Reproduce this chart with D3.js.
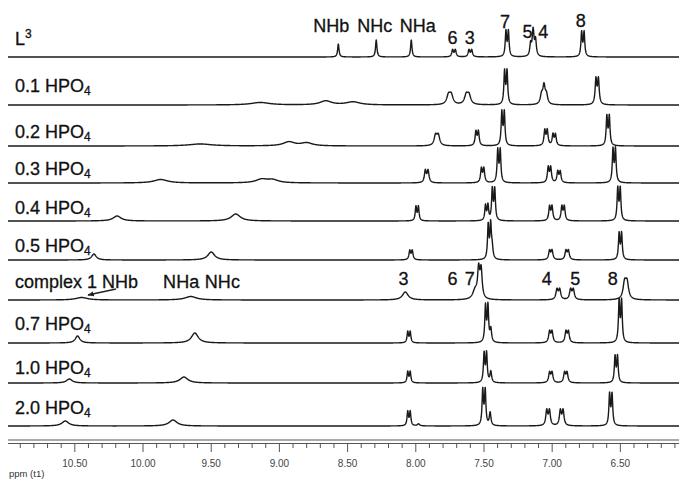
<!DOCTYPE html>
<html><head><meta charset="utf-8">
<script src="https://cdn.jsdelivr.net/npm/d3@7"></script>
<style>body{margin:0;background:#fff}svg{display:block}</style>
</head><body>
<script>
// ---------- data ----------
const axisDomain = [10.99, 6.07];              // ppm, left -> right
const tickValues = [10.5, 10.0, 9.5, 9.0, 8.5, 8.0, 7.5, 7.0, 6.5];
const tickLabels = ["10.50","10.00","9.50","9.00","8.50","8.00","7.50","7.00","6.50"];
const rowLabels = [
  ["L","3","sup"], ["0.1 HPO","4","sub"], ["0.2 HPO","4","sub"], ["0.3 HPO","4","sub"],
  ["0.4 HPO","4","sub"], ["0.5 HPO","4","sub"], ["complex 1 NHb","",""],
  ["0.7 HPO","4","sub"], ["1.0 HPO","4","sub"], ["2.0 HPO","4","sub"]
];
// signals: [ppm, height, halfwidth(ppm), number of lines, splitting(ppm)]
const s_L3 = [[8.568,13,0.006,1,0],[8.29,17,0.006,1,0],[8.033,17,0.006,1,0],[7.72,7,0.007,2,0.02],[7.60,7,0.007,2,0.02],
  [7.33,25,0.006,2,0.018],[7.15,12,0.007,2,0.016],[7.13,16,0.007,2,0.016],[6.775,24,0.006,2,0.018]];
const s_01 = [[9.14,2.5,0.08,1,0],[8.66,4,0.05,1,0],[8.46,3,0.06,1,0],[7.75,9,0.015,2,0.02],[7.62,9,0.015,2,0.02],
  [7.34,33,0.006,2,0.018],[7.06,18,0.01,3,0.018],[6.67,25,0.007,2,0.018]];
const s_02 = [[9.58,2,0.1,1,0],[8.93,4,0.05,1,0],[8.80,3,0.05,1,0],[7.845,10,0.012,2,0.02],[7.55,14,0.007,2,0.018],
  [7.36,33,0.006,2,0.018],[7.045,15,0.007,2,0.018],[6.985,11,0.007,2,0.018],[6.59,29,0.006,2,0.018]];
const s_03 = [[9.87,3.5,0.06,1,0],[9.13,3.5,0.05,1,0],[9.05,3,0.05,1,0],[7.92,12,0.008,2,0.02],[7.51,14,0.007,2,0.018],
  [7.39,32,0.006,2,0.018],[7.02,15,0.007,2,0.018],[6.95,11,0.007,2,0.018],[6.545,33,0.006,2,0.018]];
const s_04 = [[10.19,5,0.035,1,0],[9.32,7,0.04,1,0],[7.99,14,0.006,2,0.018],[7.48,15,0.006,2,0.018],
  [7.43,31,0.006,2,0.018],[7.01,14,0.007,2,0.018],[6.92,14,0.007,2,0.018],[6.51,32,0.006,2,0.018]];
const s_05 = [[10.36,6,0.02,1,0],[9.50,8,0.03,1,0],[8.035,9,0.007,2,0.018],[7.46,34,0.006,2,0.018],[7.44,11,0.007,1,0],
  [7.01,9,0.008,2,0.018],[6.89,9,0.008,2,0.018],[6.50,26,0.006,2,0.018]];
const s_c1 = [[10.45,2.5,0.05,1,0],[9.65,3.5,0.05,1,0],[8.077,8,0.025,1,0],[7.565,9,0.02,1,0],[7.53,28,0.009,2,0.018],
  [6.955,10,0.009,2,0.02],[6.855,10,0.009,2,0.02],[6.46,16,0.013,2,0.018]];
const s_07 = [[10.48,7,0.02,1,0],[9.62,10,0.03,1,0],[8.05,11,0.006,2,0.018],[7.48,36,0.006,2,0.018],[7.45,13,0.007,1,0],
  [7.01,11,0.008,2,0.018],[6.89,11,0.008,2,0.018],[6.50,41,0.006,2,0.018]];
const s_10 = [[10.54,4,0.025,1,0],[9.70,6,0.035,1,0],[8.05,11,0.006,2,0.018],[7.49,29,0.006,2,0.018],[7.45,11,0.007,1,0],
  [7.01,10,0.008,2,0.018],[6.90,10,0.008,2,0.018],[6.53,26,0.006,2,0.018]];
const s_20 = [[10.57,5,0.03,1,0],[9.78,6,0.035,1,0],[8.05,14,0.006,2,0.018],[7.98,2,0.01,1,0],[7.50,35,0.006,2,0.018],
  [7.455,13,0.007,1,0],[7.03,15,0.008,2,0.02],[6.93,15,0.008,2,0.02],[6.57,31,0.006,2,0.018]];
const spectra = [s_L3, s_01, s_02, s_03, s_04, s_05, s_c1, s_07, s_10, s_20];
// peak annotations: [text, ppm, vertical offset]
const topLabels = [["NHb",8.62,0],["NHc",8.30,0],["NHa",7.985,0],["6",7.73,12],["3",7.605,12],["7",7.345,-4],["5",7.18,6],["4",7.065,6],["8",6.79,-5]];
const complexLabels = [["3",8.09],["6",7.73],["7",7.605],["4",7.04],["5",6.83],["8",6.555]];

// ---------- layout ----------
const W = 679, H = 479;
const baselines = [57, 105, 146, 183, 221, 260, 300, 343, 383, 426];
const labelBase = [45, 92, 138, 175, 214, 252, 288, 330, 374, 414];
const font = "'Liberation Sans', Arial, sans-serif";

const svg = d3.select("body").append("svg").attr("width", W).attr("height", H);
const x = d3.scaleLinear().domain(axisDomain).range([8, W]);
const yAmp = d3.scaleLinear().domain([0, 1]).range([0, 1]);

function intensity(sig, p) {
  let v = 0;
  for (const [c, h, w, n, j] of sig) {
    const weights = n === 3 ? [0.5, 1, 0.5] : n === 2 ? [1, 1] : [1];
    const off0 = -(n - 1) * j / 2;
    weights.forEach((wt, k) => {
      const c0 = c + off0 + k * j;
      const d = p - c0;
      v += h * wt * w * w / (d * d + w * w);
    });
  }
  return v;
}

const step = 0.0015;
const pts = d3.range(axisDomain[1], axisDomain[0] + step, step);
spectra.forEach((sig, i) => {
  const line = d3.line().x(p => x(p)).y(p => baselines[i] - yAmp(intensity(sig, p)));
  svg.append("path").attr("d", line(pts)).attr("fill", "none")
    .attr("stroke", "#1a1a1a").attr("stroke-width", 1.4).attr("stroke-linejoin", "round");
});

function styleText(t) {
  return t.attr("font-family", font).attr("font-size", 18).attr("fill", "#111")
    .attr("stroke", "#111").attr("stroke-width", 0.3);
}
// row labels
rowLabels.forEach((lab, i) => {
  const t = styleText(svg.append("text").attr("x", 15).attr("y", labelBase[i]));
  t.append("tspan").text(lab[0]);
  if (lab[2] === "sub") t.append("tspan").attr("font-size", 12).attr("dy", 3).text(lab[1]);
  if (lab[2] === "sup") t.append("tspan").attr("font-size", 12).attr("dy", -7).text(lab[1]);
});

// top annotations
topLabels.forEach(([t, p, dy]) => {
  styleText(svg.append("text").attr("x", x(p)).attr("y", 32 + dy).attr("text-anchor", "middle")).text(t);
});
// complex annotations
styleText(svg.append("text").attr("x", 163).attr("y", 288)).attr("textLength", 77).text("NHa NHc");
complexLabels.forEach(([t, p]) => {
  styleText(svg.append("text").attr("x", x(p)).attr("y", 285).attr("text-anchor", "middle")).text(t);
});
// arrow
svg.append("defs").append("marker").attr("id", "ah").attr("viewBox", "0 0 10 10")
  .attr("refX", 9).attr("refY", 5).attr("markerWidth", 5).attr("markerHeight", 5).attr("orient", "auto")
  .append("path").attr("d", "M0,1 L10,5 L0,9 z").attr("fill", "#222");
svg.append("line").attr("x1", 116).attr("y1", 289).attr("x2", 88).attr("y2", 295)
  .attr("stroke", "#222").attr("stroke-width", 1.3).attr("marker-end", "url(#ah)");

// axis
const ax = svg.append("g");
ax.append("line").attr("x1", 8).attr("x2", W).attr("y1", 440).attr("y2", 440).attr("stroke", "#555").attr("stroke-width", 1);
ax.append("line").attr("x1", 8).attr("x2", W).attr("y1", 443.5).attr("y2", 443.5).attr("stroke", "#555").attr("stroke-width", 1);
const minor = d3.range(6.1, 11.0, 0.1).map(v => Math.round(v * 10) / 10);
minor.forEach(v => {
  const isMajor = Math.abs(v * 2 - Math.round(v * 2)) < 1e-6;
  ax.append("line").attr("x1", x(v)).attr("x2", x(v)).attr("y1", 443.5).attr("y2", isMajor ? 452 : 448)
    .attr("stroke", "#555").attr("stroke-width", 1);
});
tickValues.forEach((v, i) => {
  ax.append("text").attr("x", x(v)).attr("y", 467).attr("text-anchor", "middle")
    .attr("font-family", font).attr("font-size", 10).attr("fill", "#444").text(tickLabels[i]);
});
svg.append("text").attr("x", 9).attr("y", 477).attr("font-family", font).attr("font-size", 9.5)
  .attr("fill", "#333").text("ppm (t1)");
</script>
</body></html>
